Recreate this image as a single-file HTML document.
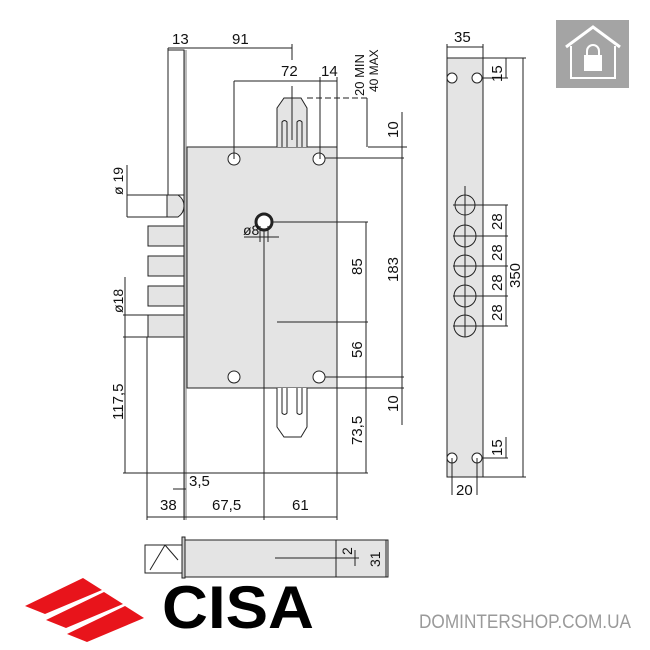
<!DOCTYPE html>
<html><head><meta charset="utf-8"><style>
html,body{margin:0;padding:0;background:#fff}
svg{display:block}
text{font-family:"Liberation Sans",sans-serif;fill:#111}
</style></head><body>
<svg width="650" height="650" viewBox="0 0 650 650" xmlns="http://www.w3.org/2000/svg">
<g stroke="#222" stroke-width="1" fill="none">
<rect x="168" y="50" width="16" height="145" fill="#fff"/>
<rect x="184" y="50" width="3" height="470" fill="#bbb" stroke="none"/>
<line x1="184" y1="50" x2="184" y2="520"/>
<rect x="187" y="147" width="150" height="241" fill="#e4e4e4"/>
<path d="M277 147 V108 L284 98 H301 L307 108 V147" fill="#e4e4e4"/>
<path d="M282 147 V122 q2.5 -3 5 0 V147 M297 147 V122 q2.5 -3 5 0 V147"/>
<line x1="292" y1="86" x2="292" y2="140"/>
<path d="M277 388 V427 L284 437 H301 L307 427 V388" fill="#fff"/>
<path d="M282 388 V413 q2.5 3 5 0 V388 M297 388 V413 q2.5 3 5 0 V388"/>
<circle cx="234" cy="159" r="6" fill="#fff"/><circle cx="319" cy="159" r="6" fill="#fff"/>
<circle cx="234" cy="377" r="6" fill="#fff"/><circle cx="319" cy="377" r="6" fill="#fff"/>
<circle cx="264" cy="222" r="8" stroke-width="3" fill="#fff"/>
<path d="M167 195 H178 q6 4 6 11 q0 7 -6 11 H167 Z" fill="#e4e4e4"/>
<rect x="148" y="226" width="36" height="20" fill="#e4e4e4"/>
<rect x="148" y="256" width="36" height="20" fill="#e4e4e4"/>
<rect x="148" y="286" width="36" height="20" fill="#e4e4e4"/>
<rect x="148" y="315" width="36" height="22" fill="#e4e4e4"/>
<line x1="168" y1="48" x2="292" y2="48"/><line x1="168" y1="48" x2="168" y2="195"/><line x1="292" y1="44" x2="292" y2="60"/>
<line x1="234" y1="81" x2="337" y2="81"/><line x1="234" y1="81" x2="234" y2="159"/><line x1="320" y1="77" x2="320" y2="159"/><line x1="337" y1="77" x2="337" y2="147"/>
<line x1="307" y1="98" x2="370" y2="98" stroke-dasharray="6 3"/><line x1="367" y1="98" x2="367" y2="147"/>
<line x1="368" y1="147" x2="407" y2="147"/><line x1="402" y1="112" x2="402" y2="425"/>
<line x1="325" y1="158" x2="404" y2="158"/>
<line x1="272" y1="222" x2="368" y2="222"/><line x1="366" y1="222" x2="366" y2="473"/>
<line x1="277" y1="322" x2="368" y2="322"/>
<line x1="325" y1="377" x2="404" y2="377"/><line x1="337" y1="388" x2="404" y2="388"/>
<line x1="264" y1="231" x2="264" y2="520"/>
<line x1="127" y1="195" x2="168" y2="195"/><line x1="127" y1="217" x2="168" y2="217"/><line x1="127" y1="165" x2="127" y2="217"/>
<line x1="123" y1="315" x2="148" y2="315"/><line x1="123" y1="337" x2="184" y2="337"/><line x1="125" y1="277" x2="125" y2="473"/>
<line x1="123" y1="473" x2="368" y2="473"/>
<line x1="147" y1="337" x2="147" y2="520"/><line x1="337" y1="388" x2="337" y2="520"/>
<line x1="147" y1="517" x2="337" y2="517"/>
<line x1="173" y1="489" x2="186" y2="489"/>
<line x1="244" y1="237" x2="279" y2="237"/><line x1="260" y1="226" x2="260" y2="242"/><line x1="268" y1="226" x2="268" y2="242"/>
<rect x="447" y="58" width="36" height="419" fill="#e4e4e4"/>
<line x1="447" y1="44" x2="447" y2="58"/><line x1="483" y1="44" x2="483" y2="58"/><line x1="447" y1="47" x2="483" y2="47"/>
<circle cx="452" cy="78" r="5" fill="#fff"/><circle cx="477" cy="78" r="5" fill="#fff"/>
<circle cx="452" cy="458" r="5" fill="#fff"/><circle cx="477" cy="458" r="5" fill="#fff"/>
<line x1="452" y1="458" x2="452" y2="495"/><line x1="477" y1="458" x2="477" y2="495"/>
<circle cx="465" cy="205" r="10"/><circle cx="465" cy="236" r="11"/><circle cx="465" cy="266" r="11"/><circle cx="465" cy="296" r="11"/><circle cx="465" cy="326" r="11"/>
<line x1="465" y1="186" x2="465" y2="337"/>
<line x1="453" y1="205" x2="508" y2="205"/><line x1="453" y1="236" x2="508" y2="236"/><line x1="453" y1="266" x2="508" y2="266"/><line x1="453" y1="296" x2="508" y2="296"/><line x1="453" y1="326" x2="508" y2="326"/>
<line x1="506" y1="205" x2="506" y2="326"/>
<line x1="483" y1="58" x2="526" y2="58"/><line x1="483" y1="477" x2="526" y2="477"/><line x1="523" y1="58" x2="523" y2="477"/>
<line x1="483" y1="78" x2="508" y2="78"/><line x1="506" y1="58" x2="506" y2="78"/>
<line x1="483" y1="458" x2="508" y2="458"/><line x1="506" y1="437" x2="506" y2="458"/>
<rect x="145" y="545" width="38" height="28" fill="#fff"/>
<path d="M165 545 L150 570 M165 545 L178 560"/>
<rect x="182" y="537" width="3" height="41" fill="#ccc"/>
<rect x="185" y="540" width="203" height="37" fill="#e4e4e4"/>
<line x1="336" y1="540" x2="336" y2="577"/>
<line x1="275" y1="558" x2="359" y2="558"/><line x1="355" y1="550" x2="355" y2="566"/>
<line x1="386" y1="540" x2="386" y2="577"/>
</g>
<g font-size="15">
<text x="172" y="44">13</text><text x="232" y="44">91</text>
<text x="281" y="76">72</text><text x="321" y="76">14</text>
<text x="243" y="235" font-size="14">ø8</text>
<text x="160" y="510">38</text><text x="212" y="510">67,5</text><text x="292" y="510">61</text><text x="189" y="486">3,5</text>
<text transform="translate(364,96) rotate(-90)" font-size="13">20 MIN</text>
<text transform="translate(378,92) rotate(-90)" font-size="12">40 MAX</text>
<text transform="translate(398,138) rotate(-90)">10</text>
<text transform="translate(398,412) rotate(-90)">10</text>
<text transform="translate(398,282) rotate(-90)">183</text>
<text transform="translate(362,275) rotate(-90)">85</text>
<text transform="translate(362,358) rotate(-90)">56</text>
<text transform="translate(362,445) rotate(-90)">73,5</text>
<text transform="translate(123,195) rotate(-90)" font-size="14">ø 19</text>
<text transform="translate(123,313) rotate(-90)" font-size="14">ø18</text>
<text transform="translate(123,420) rotate(-90)">117,5</text>
<text x="454" y="42">35</text><text x="456" y="495">20</text>
<text transform="translate(502,82) rotate(-90)">15</text>
<text transform="translate(502,456) rotate(-90)">15</text>
<text transform="translate(502,230) rotate(-90)">28</text>
<text transform="translate(502,261) rotate(-90)">28</text>
<text transform="translate(502,291) rotate(-90)">28</text>
<text transform="translate(502,321) rotate(-90)">28</text>
<text transform="translate(520,288) rotate(-90)">350</text>
<text transform="translate(352,555) rotate(-90)" font-size="14">2</text>
<text transform="translate(380,567) rotate(-90)" font-size="14">31</text>
</g>
<rect x="556" y="20" width="73" height="68" fill="#a4a4a4"/>
<path d="M566 47 L593 27 L620 47" stroke="#fff" stroke-width="3" fill="none"/>
<path d="M571 46 V78 H615 V46" stroke="#fff" stroke-width="2" fill="none"/>
<rect x="584" y="55" width="18" height="16" fill="#fff"/>
<path d="M587 55 v-4 a6 6 0 0 1 12 0 v4" stroke="#fff" stroke-width="2" fill="none"/>
<g fill="#e8141b">
<polygon points="25,606 83,578 102,590 45,614"/>
<polygon points="46,620 104,592 123,604 66,628"/>
<polygon points="67,634 125,606 144,618 87,642"/>
</g>
<text x="162" y="628" font-size="60" font-weight="bold" textLength="152" lengthAdjust="spacingAndGlyphs" style="fill:#000">CISA</text>
<text x="419" y="628" font-size="19" textLength="212" lengthAdjust="spacingAndGlyphs" style="fill:#9a9a9a">DOMINTERSHOP.COM.UA</text>
</svg>
</body></html>
